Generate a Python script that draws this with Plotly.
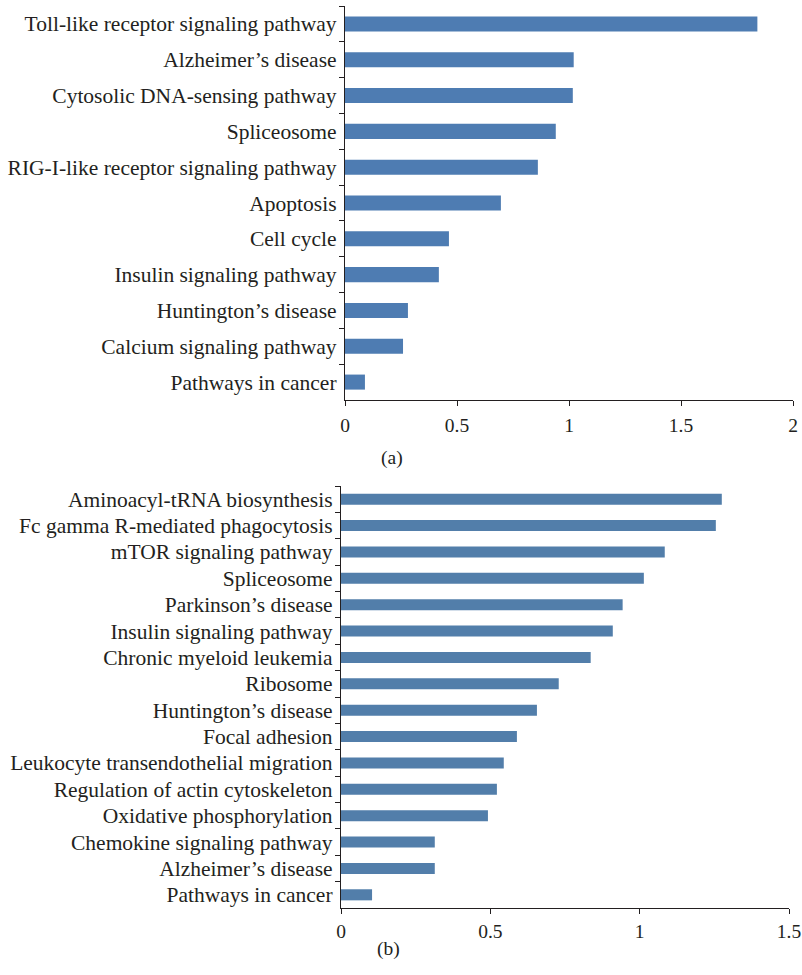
import plotly.graph_objects as go

# Panel (a): pathway enrichment scores
pathways_a = [
    "Toll-like receptor signaling pathway",
    "Alzheimer’s disease",
    "Cytosolic DNA-sensing pathway",
    "Spliceosome",
    "RIG-I-like receptor signaling pathway",
    "Apoptosis",
    "Cell cycle",
    "Insulin signaling pathway",
    "Huntington’s disease",
    "Calcium signaling pathway",
    "Pathways in cancer",
]
scores_a = [1.841, 1.021, 1.017, 0.941, 0.861, 0.696, 0.464, 0.419, 0.281, 0.259, 0.089]

# Panel (b): pathway enrichment scores
pathways_b = [
    "Aminoacyl-tRNA biosynthesis",
    "Fc gamma R-mediated phagocytosis",
    "mTOR signaling pathway",
    "Spliceosome",
    "Parkinson’s disease",
    "Insulin signaling pathway",
    "Chronic myeloid leukemia",
    "Ribosome",
    "Huntington’s disease",
    "Focal adhesion",
    "Leukocyte transendothelial migration",
    "Regulation of actin cytoskeleton",
    "Oxidative phosphorylation",
    "Chemokine signaling pathway",
    "Alzheimer’s disease",
    "Pathways in cancer",
]
scores_b = [1.275, 1.255, 1.084, 1.014, 0.943, 0.910, 0.836, 0.729, 0.656,
            0.589, 0.545, 0.522, 0.492, 0.314, 0.314, 0.104]

x_ticks_a = [0, 0.5, 1, 1.5, 2]
x_ticks_b = [0, 0.5, 1, 1.5]

W, H = 802, 975
FONT = "Liberation Serif"
TXT = "#231F20"
AX = "#231F20"

fig = go.Figure()
fig.add_trace(go.Bar(y=pathways_a, x=scores_a, orientation="h", width=0.42,
                     marker=dict(color="#4E7CB2", line=dict(width=0)),
                     xaxis="x", yaxis="y"))
fig.add_trace(go.Bar(y=pathways_b, x=scores_b, orientation="h", width=0.42,
                     marker=dict(color="#527EAA", line=dict(width=0)),
                     xaxis="x2", yaxis="y2"))

def px_x(a, b):
    return [a / W, b / W]

def px_y(top, bottom):
    return [1 - bottom / H, 1 - top / H]

common_x = dict(showline=True, linecolor=AX, linewidth=1.3, ticks="outside",
                ticklen=5, tickwidth=1.2, tickcolor=AX, showgrid=False,
                zeroline=False, tickfont=dict(family=FONT, size=19.5, color=TXT),
                automargin=False)
common_y = dict(showline=True, linecolor=AX, linewidth=1.3, ticks="outside",
                ticklen=5, tickwidth=1.2, tickcolor=AX, showgrid=False,
                tickson="boundaries", autorange="reversed", type="category",
                tickfont=dict(family=FONT, size=21.5, color=TXT),
                ticklabelstandoff=3, automargin=False)

fig.update_layout(
    width=W, height=H,
    margin=dict(l=0, r=0, t=0, b=0),
    paper_bgcolor="white", plot_bgcolor="white",
    showlegend=False,
    xaxis=dict(domain=px_x(345, 793), range=[0, 2], tickvals=x_ticks_a,
               ticktext=[f"{v:g}" for v in x_ticks_a], anchor="y",
               ticklabelstandoff=2, **common_x),
    yaxis=dict(domain=px_y(6, 400), anchor="x",
               categoryarray=pathways_a, categoryorder="array", **common_y),
    xaxis2=dict(domain=px_x(341, 789), range=[0, 1.5], tickvals=x_ticks_b,
                ticktext=[f"{v:g}" for v in x_ticks_b], anchor="y2",
                ticklabelstandoff=0, **common_x),
    yaxis2=dict(domain=px_y(486, 908), anchor="x2",
                categoryarray=pathways_b, categoryorder="array", **common_y),
    annotations=[
        dict(text="(a)", x=392 / W, y=1 - 458 / H, xref="paper", yref="paper",
             showarrow=False, font=dict(family=FONT, size=19.5, color=TXT)),
        dict(text="(b)", x=388 / W, y=1 - 962 / H, xref="paper", yref="paper",
             showarrow=False, font=dict(family=FONT, size=19.5, color=TXT)),
    ],
)

fig.write_html("out.html")
